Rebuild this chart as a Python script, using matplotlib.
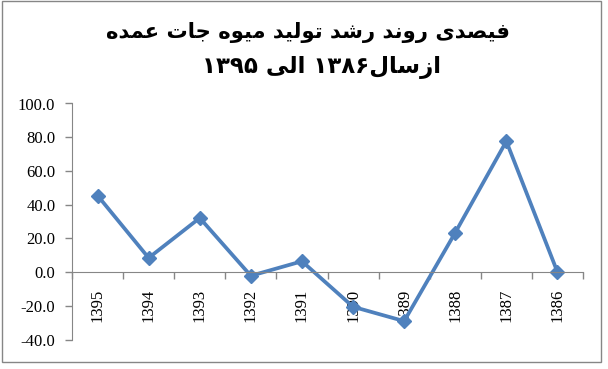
import matplotlib
matplotlib.use("Agg")
import matplotlib.pyplot as plt
from matplotlib.patches import Rectangle
from matplotlib.ticker import FixedLocator, FormatStrFormatter

# ---------------- data ----------------
years = ["1395", "1394", "1393", "1392", "1391", "1390", "1389", "1388", "1387", "1386"]
growth = [45.4, 8.4, 32.1, -2.2, 6.4, -20.6, -29.1, 23.4, 77.6, 0.0]
y_ticks = [-40, -20, 0, 20, 40, 60, 80, 100]
title_line1 = "فیصدی روند رشد تولید میوه جات عمده"
title_line2 = "ازسال۱۳۸۶ الی ۱۳۹۵"

# ---------------- minimal Arabic shaping + bidi ----------------
FORMS = {
    "\u0641": ("\uFED1", "\uFED2", "\uFED3", "\uFED4"),  # feh
    "\u06CC": ("\uFBFC", "\uFBFD", "\uFBFE", "\uFBFF"),  # farsi yeh
    "\u0635": ("\uFEB9", "\uFEBA", "\uFEBB", "\uFEBC"),  # sad
    "\u062F": ("\uFEA9", "\uFEAA"),                      # dal
    "\u0631": ("\uFEAD", "\uFEAE"),                      # reh
    "\u0648": ("\uFEED", "\uFEEE"),                      # waw
    "\u0646": ("\uFEE5", "\uFEE6", "\uFEE7", "\uFEE8"),  # noon
    "\u0634": ("\uFEB5", "\uFEB6", "\uFEB7", "\uFEB8"),  # sheen
    "\u062A": ("\uFE95", "\uFE96", "\uFE97", "\uFE98"),  # teh
    "\u0644": ("\uFEDD", "\uFEDE", "\uFEDF", "\uFEE0"),  # lam
    "\u0645": ("\uFEE1", "\uFEE2", "\uFEE3", "\uFEE4"),  # meem
    "\u0647": ("\uFEE9", "\uFEEA", "\uFEEB", "\uFEEC"),  # heh
    "\u062C": ("\uFE9D", "\uFE9E", "\uFE9F", "\uFEA0"),  # jeem
    "\u0627": ("\uFE8D", "\uFE8E"),                      # alef
    "\u0639": ("\uFEC9", "\uFECA", "\uFECB", "\uFECC"),  # ain
    "\u0632": ("\uFEAF", "\uFEB0"),                      # zain
    "\u0633": ("\uFEB1", "\uFEB2", "\uFEB3", "\uFEB4"),  # seen
}


def shape(text):
    out = []
    for i, ch in enumerate(text):
        if ch not in FORMS:
            out.append(ch)
            continue
        prev = text[i - 1] if i > 0 else None
        nxt = text[i + 1] if i + 1 < len(text) else None
        forms = FORMS[ch]
        jp = prev in FORMS and len(FORMS[prev]) == 4
        jn = nxt in FORMS and len(forms) == 4
        if jp and jn:
            out.append(forms[3])
        elif jp:
            out.append(forms[1])
        elif jn:
            out.append(forms[2])
        else:
            out.append(forms[0])
    return "".join(out)


def visual(text):
    s = shape(text)
    runs = []
    for c in s:
        d = c.isdigit()
        if runs and runs[-1][0] == d:
            runs[-1][1] += c
        else:
            runs.append([d, c])
    parts = []
    for d, r in reversed(runs):
        parts.append(r if d else r[::-1])
    return "".join(parts)


# ---------------- figure ----------------
W, H = 608, 369
fig = plt.figure(figsize=(W / 100, H / 100), dpi=100)
fig.patch.set_facecolor("white")

frame = Rectangle((2 / W, 1 - 362 / H), 599 / W, 361 / H, transform=fig.transFigure,
                  fill=False, edgecolor="#868686", linewidth=1.0)
fig.patches.append(frame)

ax = fig.add_axes([72 / W, 1 - 339.5 / H, (583 - 72) / W, (339.5 - 103.5) / H])

x = list(range(len(years)))
ax.plot(x, growth, color="#4F81BD", linewidth=2.7, marker="D", markersize=7.5,
        markerfacecolor="#4F81BD", markeredgecolor="#4F81BD", solid_joinstyle="round")

ax.set_xlim(-0.5, len(years) - 0.5)
ax.set_ylim(-40, 100)

axis_color = "#868686"
for s in ["top", "right"]:
    ax.spines[s].set_visible(False)
ax.spines["left"].set_color(axis_color)
ax.spines["bottom"].set_color(axis_color)
ax.spines["bottom"].set_position(("data", 0))

ax.yaxis.set_major_locator(FixedLocator(y_ticks))
ax.yaxis.set_major_formatter(FormatStrFormatter("%.1f"))
ax.tick_params(axis="y", which="major", length=5, width=1, color=axis_color,
               pad=7, labelsize=12, labelcolor="black")

ax.set_xticks(x)
ax.set_xticklabels(years, rotation=90)
ax.set_xticks([i - 0.5 for i in range(len(years) + 1)], minor=True)
ax.tick_params(axis="x", which="major", length=0, pad=12, labelsize=12, labelcolor="black")
ax.tick_params(axis="x", which="minor", length=5, width=1, color=axis_color, direction="out")

for lab in ax.get_xticklabels() + ax.get_yticklabels():
    lab.set_fontfamily("Liberation Serif")
for lab in ax.get_xticklabels():
    lab.set_verticalalignment("top")

fig.text(307.5 / W, 1 - 38 / H, visual(title_line1), ha="center", va="baseline",
         fontsize=15.2, fontweight="bold", family=["DejaVu Sans"], color="black")
fig.text(322 / W, 1 - 73 / H, visual(title_line2), ha="center", va="baseline",
         fontsize=16.5, fontweight="bold", family=["DejaVu Sans"], color="black")

fig.savefig("out.png", dpi=100, facecolor="white")
